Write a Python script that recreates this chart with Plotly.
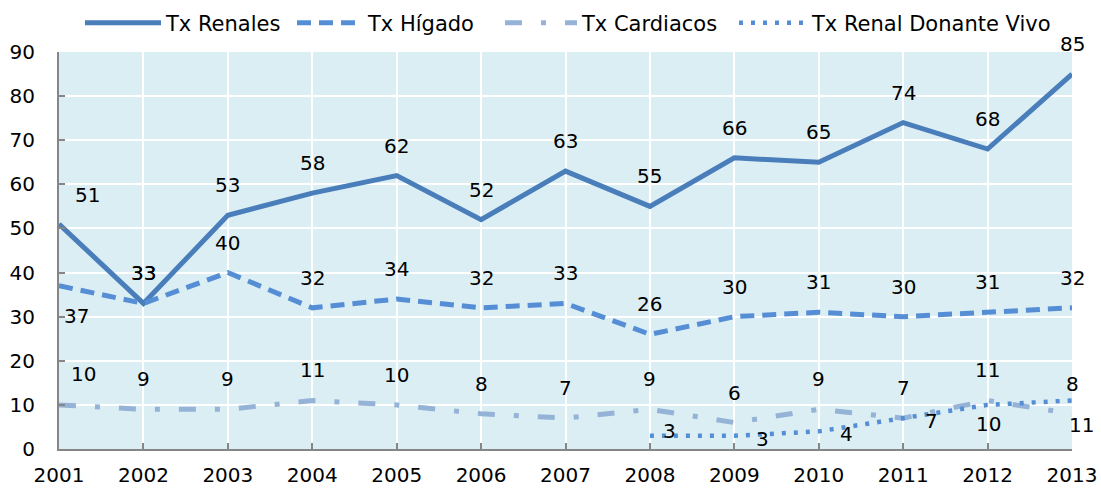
import plotly.graph_objects as go

years = [2001, 2002, 2003, 2004, 2005, 2006, 2007, 2008, 2009, 2010, 2011, 2012, 2013]
tx_renales = [51, 33, 53, 58, 62, 52, 63, 55, 66, 65, 74, 68, 85]
tx_higado = [37, 33, 40, 32, 34, 32, 33, 26, 30, 31, 30, 31, 32]
tx_cardiacos = [10, 9, 9, 11, 10, 8, 7, 9, 6, 9, 7, 11, 8]
years_vivo = [2008, 2009, 2010, 2011, 2012, 2013]
tx_renal_vivo = [3, 3, 4, 7, 10, 11]

FONT = "DejaVu Sans"
FS = 20
W, H = 1101, 489
ML, MR, MT, MB = 59, 29, 52, 40
PW, PH = W - ML - MR, H - MT - MB

fig = go.Figure()

fig.add_trace(go.Scatter(x=years, y=tx_renales, name="Tx Renales", mode="lines",
                         line=dict(color="#4a7ebb", width=5), legend="legend"))
fig.add_trace(go.Scatter(x=years, y=tx_higado, name="Tx Hígado", mode="lines",
                         line=dict(color="#558ed5", width=5, dash="14px,8px"), legend="legend2"))
fig.add_trace(go.Scatter(x=years, y=tx_cardiacos, name="Tx Cardiacos", mode="lines",
                         line=dict(color="#95b3d7", width=5, dash="17px,19px,5px,19px"),
                         legend="legend3"))
fig.add_trace(go.Scatter(x=years_vivo, y=tx_renal_vivo, name="Tx Renal Donante Vivo", mode="lines",
                         line=dict(color="#558ed5", width=4.5, dash="4px,8px"), legend="legend4"))

annotations = []

def add_labels(xs, ys, default_shift, overrides=None):
    overrides = overrides or {}
    for i, (xv, yv) in enumerate(zip(xs, ys)):
        dx, dy = overrides.get(i, default_shift)
        annotations.append(dict(x=xv, y=yv, text=str(yv), showarrow=False,
                                xshift=dx, yshift=dy,
                                font=dict(family=FONT, size=FS, color="#000000")))

add_labels(years, tx_renales, (0, 30), {0: (28, 29)})
add_labels(years, tx_higado, (0, 30), {0: (17, -30)})
add_labels(years, tx_cardiacos, (0, 30), {0: (24, 31)})
add_labels(years_vivo, tx_renal_vivo, (28, -3),
           {0: (20, 5), 4: (1, -19), 5: (9, -25)})

axis_common = dict(showgrid=True, gridcolor="#ffffff", gridwidth=2,
                   showline=True, linecolor="#868686", linewidth=2,
                   ticks="inside", ticklen=6, tickcolor="#868686", tickwidth=2,
                   zeroline=False, automargin=False,
                   tickfont=dict(family=FONT, size=FS, color="#000000"))

def legend_at(px_left, item_w):
    return dict(orientation="h", x=(px_left - ML) / PW, xanchor="left",
                y=1 + (MT - 23) / PH, yanchor="middle",
                font=dict(family=FONT, size=21, color="#000000"), itemwidth=item_w,
                bgcolor="rgba(0,0,0,0)", borderwidth=0)

fig.update_layout(
    width=W, height=H,
    margin=dict(l=ML, r=MR, t=MT, b=MB, autoexpand=False),
    paper_bgcolor="#ffffff",
    plot_bgcolor="#dbeef4",
    font=dict(family=FONT, size=FS, color="#000000"),
    showlegend=True,
    legend=legend_at(80, 76),
    legend2=legend_at(292, 66),
    legend3=legend_at(500, 72),
    legend4=legend_at(734, 68),
    annotations=annotations,
    xaxis=dict(range=[2001, 2013], tickmode="array", tickvals=years,
               ticktext=[str(y) for y in years], ticklabelstandoff=7, **axis_common),
    yaxis=dict(range=[0, 90], tickmode="linear", dtick=10, tick0=0,
               ticklabelstandoff=18, **axis_common),
)

for tr in fig.data:
    tr.cliponaxis = False

fig.write_html("out.html", config={"displayModeBar": False},
               post_script="document.body.style.margin='0';document.body.style.padding='0';")
